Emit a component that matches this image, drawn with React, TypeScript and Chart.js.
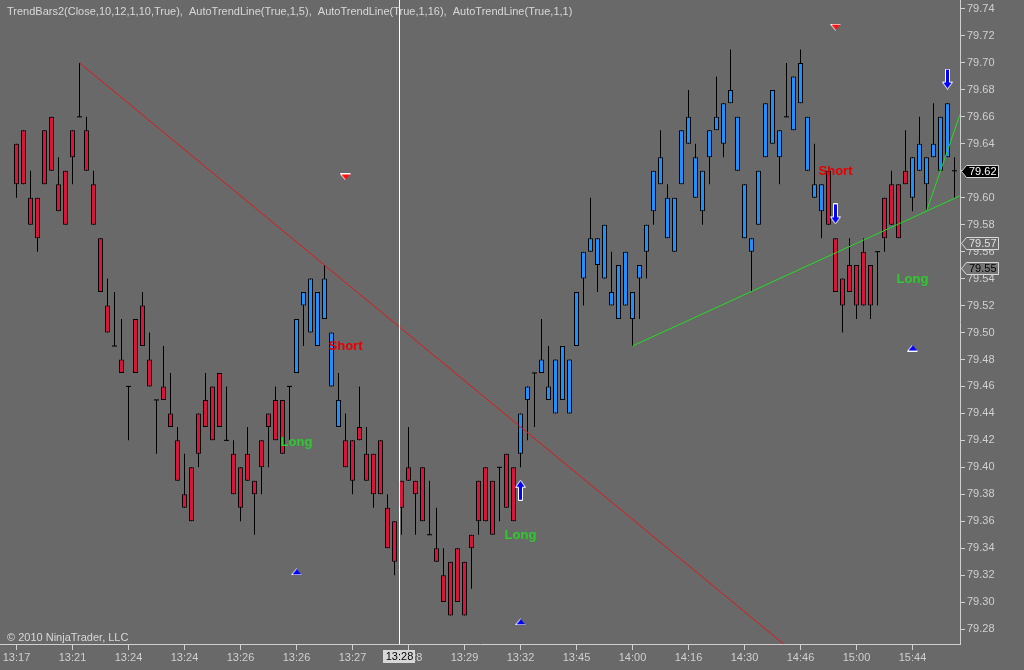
import React, { useEffect, useRef } from "react";
import { Chart, registerables } from "chart.js";

Chart.register(...registerables);

// ---------- data ----------
const opens = [
  79.64, 79.65, 79.60, 79.60, 79.65, 79.66, 79.61, 79.62, 79.65, 79.66,
  79.65, 79.61, 79.57, 79.52, 79.49, 79.48, 79.46, 79.51, 79.52, 79.48,
  79.45, 79.46, 79.44, 79.42, 79.38, 79.40, 79.44, 79.45, 79.46, 79.47,
  79.42, 79.41, 79.40, 79.41, 79.39, 79.42, 79.44, 79.45, 79.45, 79.46,
  79.47, 79.52, 79.50, 79.49, 79.51, 79.46, 79.43, 79.42, 79.42, 79.43,
  79.41, 79.41, 79.42, 79.37, 79.36, 79.39, 79.40, 79.39, 79.40, 79.35,
  79.34, 79.32, 79.33, 79.34, 79.33, 79.35, 79.39, 79.40, 79.39, 79.40,
  79.41, 79.40, 79.41, 79.45, 79.47, 79.47, 79.45, 79.44, 79.45, 79.44,
  79.49, 79.54, 79.56, 79.55, 79.54, 79.52, 79.51, 79.52, 79.51, 79.54,
  79.56, 79.59, 79.61, 79.57, 79.56, 79.61, 79.64, 79.60, 79.59, 79.63,
  79.65, 79.64, 79.67, 79.62, 79.57, 79.56, 79.58, 79.63, 79.64, 79.63,
  79.66, 79.65, 79.67, 79.62, 79.60, 79.59, 79.62, 79.57, 79.54, 79.55,
  79.55, 79.56, 79.55, 79.56, 79.60, 79.61, 79.61, 79.62, 79.60, 79.62,
  79.61, 79.63, 79.62, 79.63, 79.62,
];
const closes = [
  79.61, 79.61, 79.58, 79.57, 79.61, 79.62, 79.59, 79.58, 79.63, 79.66,
  79.62, 79.58, 79.53, 79.50, 79.49, 79.47, 79.46, 79.47, 79.49, 79.46,
  79.45, 79.45, 79.43, 79.39, 79.37, 79.36, 79.41, 79.43, 79.42, 79.43,
  79.42, 79.38, 79.37, 79.39, 79.38, 79.40, 79.43, 79.42, 79.41, 79.46,
  79.51, 79.53, 79.54, 79.53, 79.54, 79.50, 79.45, 79.40, 79.39, 79.42,
  79.39, 79.38, 79.38, 79.34, 79.33, 79.37, 79.39, 79.38, 79.36, 79.35,
  79.33, 79.30, 79.29, 79.30, 79.29, 79.34, 79.36, 79.36, 79.35, 79.40,
  79.37, 79.36, 79.44, 79.46, 79.47, 79.48, 79.46, 79.48, 79.49, 79.48,
  79.53, 79.56, 79.57, 79.57, 79.58, 79.53, 79.55, 79.56, 79.53, 79.55,
  79.58, 79.62, 79.63, 79.60, 79.60, 79.65, 79.66, 79.63, 79.62, 79.65,
  79.66, 79.67, 79.68, 79.66, 79.61, 79.57, 79.62, 79.67, 79.68, 79.65,
  79.66, 79.69, 79.70, 79.66, 79.61, 79.61, 79.58, 79.53, 79.52, 79.53,
  79.52, 79.52, 79.52, 79.56, 79.57, 79.58, 79.57, 79.61, 79.63, 79.64,
  79.63, 79.64, 79.66, 79.67, 79.62,
];
const highs = [
  79.64, 79.65, 79.62, 79.60, 79.65, 79.66, 79.63, 79.62, 79.65, 79.70,
  79.66, 79.62, 79.57, 79.54, 79.53, 79.51, 79.46, 79.51, 79.53, 79.50,
  79.45, 79.49, 79.47, 79.43, 79.41, 79.40, 79.44, 79.47, 79.46, 79.47,
  79.46, 79.42, 79.40, 79.43, 79.39, 79.42, 79.44, 79.46, 79.45, 79.46,
  79.51, 79.53, 79.54, 79.53, 79.55, 79.50, 79.47, 79.44, 79.42, 79.46,
  79.43, 79.41, 79.42, 79.38, 79.36, 79.39, 79.43, 79.39, 79.40, 79.39,
  79.37, 79.34, 79.33, 79.34, 79.33, 79.35, 79.39, 79.40, 79.39, 79.40,
  79.41, 79.40, 79.44, 79.46, 79.47, 79.51, 79.49, 79.48, 79.49, 79.48,
  79.53, 79.56, 79.60, 79.57, 79.58, 79.56, 79.55, 79.56, 79.53, 79.55,
  79.58, 79.62, 79.65, 79.61, 79.60, 79.65, 79.68, 79.64, 79.62, 79.65,
  79.69, 79.67, 79.71, 79.66, 79.61, 79.57, 79.62, 79.67, 79.68, 79.65,
  79.70, 79.69, 79.71, 79.66, 79.64, 79.61, 79.62, 79.57, 79.54, 79.57,
  79.55, 79.57, 79.55, 79.56, 79.60, 79.62, 79.61, 79.65, 79.63, 79.66,
  79.63, 79.67, 79.66, 79.67, 79.63,
];
const lows = [
  79.60, 79.61, 79.58, 79.56, 79.61, 79.62, 79.59, 79.58, 79.61, 79.66,
  79.62, 79.58, 79.53, 79.50, 79.49, 79.47, 79.42, 79.47, 79.49, 79.46,
  79.41, 79.45, 79.43, 79.39, 79.37, 79.36, 79.40, 79.43, 79.42, 79.43,
  79.42, 79.38, 79.36, 79.39, 79.35, 79.38, 79.40, 79.42, 79.41, 79.42,
  79.47, 79.49, 79.50, 79.49, 79.51, 79.46, 79.43, 79.40, 79.38, 79.42,
  79.39, 79.37, 79.38, 79.34, 79.32, 79.35, 79.39, 79.35, 79.36, 79.35,
  79.33, 79.30, 79.29, 79.30, 79.29, 79.31, 79.35, 79.36, 79.35, 79.36,
  79.37, 79.36, 79.40, 79.42, 79.43, 79.47, 79.45, 79.44, 79.45, 79.44,
  79.49, 79.52, 79.56, 79.53, 79.54, 79.52, 79.51, 79.52, 79.49, 79.51,
  79.54, 79.58, 79.61, 79.57, 79.56, 79.61, 79.64, 79.60, 79.58, 79.61,
  79.65, 79.63, 79.67, 79.62, 79.57, 79.53, 79.58, 79.63, 79.64, 79.61,
  79.66, 79.65, 79.67, 79.62, 79.60, 79.57, 79.58, 79.53, 79.50, 79.53,
  79.51, 79.52, 79.51, 79.52, 79.56, 79.58, 79.57, 79.61, 79.59, 79.62,
  79.59, 79.63, 79.62, 79.63, 79.60,
];
// trend state of the TrendBars indicator: [state, number of bars]
const trendRuns: [string, number][] = [
  ["down", 40], ["up", 7], ["down", 25], ["up", 44], ["down", 12], ["up", 6], ["flat", 1],
];

const xTickBars = [0, 8, 16, 24, 32, 40, 48, 56, 64, 72, 80, 88, 96, 104, 112, 120, 128];
const xTickLabels = [
  "13:17", "13:21", "13:24", "13:24", "13:26", "13:26", "13:27", "13:28", "13:29",
  "13:32", "13:45", "14:00", "14:16", "14:30", "14:46", "15:00", "15:44",
];
const yTickValues = [
  79.28, 79.30, 79.32, 79.34, 79.36, 79.38, 79.40, 79.42, 79.44, 79.46, 79.48, 79.50,
  79.52, 79.54, 79.56, 79.58, 79.60, 79.62, 79.64, 79.66, 79.68, 79.70, 79.72, 79.74,
];

// auto trend lines: two anchor bars and prices each (extended to the right)
const redTrendBars = [9, 44];
const redTrendPrices = [79.70, 79.55];
const greenTrendBarsA = [88, 130];
const greenTrendPricesA = [79.49, 79.59];
const greenTrendBarsB = [130, 132];
const greenTrendPricesB = [79.59, 79.62];

// signal markers
const shortTriangleBars = [47, 117];
const shortTrianglePrices = [79.6154, 79.7266];
const longTriangleBars = [40, 72, 128];
const longTrianglePrices = [79.3224, 79.2853, 79.4885];
const upArrowBars = [72];
const upArrowPrices = [79.383];
const downArrowBars = [117, 133];
const downArrowPrices = [79.588, 79.688];
const shortLabelBars = [47, 117];
const shortLabelPrices = [79.49, 79.6198];
const longLabelBars = [40, 72, 128];
const longLabelPrices = [79.4188, 79.3498, 79.5392];

// right-axis price markers
const markerOutlinePrice = 79.5666;
const markerOutlineLabel = "79.57";
const markerFilledPrice = 79.548;
const markerFilledLabel = "79.55";

const crosshairBar = 54.69;
const crosshairLabel = "13:28";

const titleText =
  "TrendBars2(Close,10,12,1,10,True),  AutoTrendLine(True,1,5),  AutoTrendLine(True,1,16),  AutoTrendLine(True,1,1)";
const copyrightText = "\u00A9 2010 NinjaTrader, LLC";

// ---------- styling ----------
const BG = "#696969";
const AXIS = "#d0d0d0";
const RED_BAR = "#dc143c";
const BLUE_BAR = "#1e90ff";
const FONT = '"Liberation Sans", Arial, sans-serif';
const X_MIN = -16.5 / 7;
const X_MAX = (960 - 16.5) / 7;
const Y_MIN = 79.74 - 635 / 1348;
const Y_MAX = 79.74 + 9 / 1348;
const DOJI = 0.0004;

function makeCanvas(w: number, h: number, draw: (g: CanvasRenderingContext2D) => void) {
  const c = document.createElement("canvas");
  c.width = w;
  c.height = h;
  const g = c.getContext("2d")!;
  draw(g);
  return c;
}

function extendLine(bars: number[], prices: number[]) {
  const slope = (prices[1] - prices[0]) / (bars[1] - bars[0]);
  return [
    { x: bars[0], y: prices[0] },
    { x: X_MAX, y: prices[0] + slope * (X_MAX - bars[0]) },
  ];
}

export default function App() {
  const ref = useRef<HTMLCanvasElement>(null);

  useEffect(() => {
    const canvas = ref.current;
    if (!canvas) return;

    const states: string[] = [];
    trendRuns.forEach(([s, n]) => {
      for (let k = 0; k < n; k++) states.push(s);
    });

    const wickData = highs.map((h, i) => ({ x: i, y: [lows[i], h] }));
    const bodyData = opens.map((o, i) => {
      const c = closes[i];
      if (o === c) return { x: i, y: [o - DOJI, o + DOJI] };
      return { x: i, y: [Math.min(o, c), Math.max(o, c)] };
    });
    const bodyColors = opens.map((o, i) =>
      o === closes[i] ? "#000000" : states[i] === "up" ? BLUE_BAR : states[i] === "down" ? RED_BAR : "#000000"
    );
    const bodyBorders = opens.map((o, i) => (o === closes[i] ? 0 : 1));

    const redTri = makeCanvas(11, 7, (g) => {
      g.beginPath();
      g.moveTo(0.5, 0.5);
      g.lineTo(10.5, 0.5);
      g.lineTo(5.5, 6.5);
      g.closePath();
      g.fillStyle = "#ff1010";
      g.fill();
      g.strokeStyle = "#ffffff";
      g.lineWidth = 1;
      g.beginPath();
      g.moveTo(5.5, 6.5);
      g.lineTo(0.5, 0.5);
      g.lineTo(10.5, 0.5);
      g.stroke();
    });
    const blueTri = makeCanvas(11, 7, (g) => {
      g.beginPath();
      g.moveTo(5.5, 0.5);
      g.lineTo(10.5, 6.5);
      g.lineTo(0.5, 6.5);
      g.closePath();
      g.fillStyle = "#0000ff";
      g.fill();
      g.strokeStyle = "#ffffff";
      g.lineWidth = 1;
      g.beginPath();
      g.moveTo(5.5, 0.5);
      g.lineTo(0.5, 6.5);
      g.lineTo(10.5, 6.5);
      g.stroke();
    });
    const arrowPath = (g: CanvasRenderingContext2D, up: boolean) => {
      const pts = [
        [5.5, 0.5], [10.5, 7.5], [7.5, 7.5], [7.5, 20.5], [3.5, 20.5], [3.5, 7.5], [0.5, 7.5],
      ];
      g.beginPath();
      pts.forEach(([px, py], k) => {
        const yy = up ? py : 21 - py;
        if (k === 0) g.moveTo(px, yy);
        else g.lineTo(px, yy);
      });
      g.closePath();
      g.fillStyle = "#0000ff";
      g.fill();
      g.strokeStyle = "#ffffff";
      g.lineWidth = 1;
      g.stroke();
    };
    const upArrow = makeCanvas(11, 21, (g) => arrowPath(g, true));
    const downArrow = makeCanvas(11, 21, (g) => arrowPath(g, false));

    const drawPriceBox = (
      ctx: CanvasRenderingContext2D,
      yPix: number,
      label: string,
      fill: string | null,
      stroke: string,
      text: string
    ) => {
      const yy = Math.round(yPix) + 0.5;
      ctx.beginPath();
      ctx.moveTo(961.5, yy);
      ctx.lineTo(966.5, yy - 6);
      ctx.lineTo(998.5, yy - 6);
      ctx.lineTo(998.5, yy + 6);
      ctx.lineTo(966.5, yy + 6);
      ctx.closePath();
      if (fill) {
        ctx.fillStyle = fill;
        ctx.fill();
      }
      ctx.strokeStyle = stroke;
      ctx.lineWidth = 1;
      ctx.stroke();
      ctx.fillStyle = text;
      ctx.font = `11px ${FONT}`;
      ctx.textAlign = "left";
      ctx.textBaseline = "middle";
      ctx.fillText(label, 969, yy + 0.5);
    };

    const overlay = {
      id: "overlay",
      beforeDraw(chart: any) {
        const { ctx, width, height } = chart;
        ctx.save();
        ctx.fillStyle = BG;
        ctx.fillRect(0, 0, width, height);
        ctx.restore();
      },
      afterDraw(chart: any) {
        const { ctx, chartArea } = chart;
        const xs = chart.scales.x;
        const ys = chart.scales.y;
        ctx.save();

        // signal labels
        ctx.font = `bold 13px ${FONT}`;
        ctx.textAlign = "center";
        ctx.textBaseline = "middle";
        ctx.fillStyle = "#e60000";
        shortLabelBars.forEach((b, i) =>
          ctx.fillText("Short", xs.getPixelForValue(b), ys.getPixelForValue(shortLabelPrices[i]))
        );
        ctx.fillStyle = "#32c832";
        longLabelBars.forEach((b, i) =>
          ctx.fillText("Long", xs.getPixelForValue(b), ys.getPixelForValue(longLabelPrices[i]))
        );

        // crosshair
        const cx = Math.round(xs.getPixelForValue(crosshairBar)) + 0.5;
        ctx.strokeStyle = "#ffffff";
        ctx.lineWidth = 1;
        ctx.beginPath();
        ctx.moveTo(cx, 0);
        ctx.lineTo(cx, chartArea.bottom);
        ctx.stroke();

        // title & copyright
        ctx.font = `11px ${FONT}`;
        ctx.textAlign = "left";
        ctx.textBaseline = "middle";
        ctx.fillStyle = "#d8d8d8";
        ctx.fillText(titleText, 7, 12);
        ctx.fillText(copyrightText, 7, 638);

        // crosshair time box
        ctx.fillStyle = "#d8d8d8";
        ctx.fillRect(cx - 16.5, 650, 32, 13);
        ctx.fillStyle = "#000000";
        ctx.textAlign = "center";
        ctx.fillText(crosshairLabel, cx, 657);

        // price markers on the right axis
        drawPriceBox(ctx, ys.getPixelForValue(markerOutlinePrice), markerOutlineLabel, BG, "#d8d8d8", "#e0e0e0");
        drawPriceBox(ctx, ys.getPixelForValue(markerFilledPrice), markerFilledLabel, "#747474", "#d8d8d8", "#000000");
        const last = closes[closes.length - 1];
        drawPriceBox(ctx, ys.getPixelForValue(last), last.toFixed(2), "#000000", "#d8d8d8", "#ffffff");

        ctx.restore();
      },
    };

    const chart = new Chart(canvas, {
      type: "bar",
      data: {
        datasets: [
          {
            type: "bar",
            label: "wicks",
            data: wickData as any,
            backgroundColor: "#000000",
            borderWidth: 0,
            barThickness: 1,
            maxBarThickness: 1,
            grouped: false,
            inflateAmount: 0,
            order: 3,
          } as any,
          {
            type: "bar",
            label: "bodies",
            data: bodyData as any,
            backgroundColor: bodyColors,
            borderColor: "#000000",
            borderWidth: bodyBorders,
            borderSkipped: false,
            barThickness: 5,
            maxBarThickness: 5,
            grouped: false,
            inflateAmount: 0,
            order: 2,
          } as any,
          {
            type: "line",
            label: "trend red",
            data: extendLine(redTrendBars, redTrendPrices),
            borderColor: "#e01818",
            borderWidth: 1,
            pointRadius: 0,
            fill: false,
            tension: 0,
            order: 1,
          } as any,
          {
            type: "line",
            label: "trend green A",
            data: extendLine(greenTrendBarsA, greenTrendPricesA),
            borderColor: "#22dd22",
            borderWidth: 1,
            pointRadius: 0,
            fill: false,
            tension: 0,
            order: 1,
          } as any,
          {
            type: "line",
            label: "trend green B",
            data: extendLine(greenTrendBarsB, greenTrendPricesB),
            borderColor: "#22dd22",
            borderWidth: 1,
            pointRadius: 0,
            fill: false,
            tension: 0,
            order: 1,
          } as any,
          {
            type: "line",
            label: "short triangles",
            data: shortTriangleBars.map((b, i) => ({ x: b, y: shortTrianglePrices[i] })),
            showLine: false,
            pointStyle: redTri,
            pointRadius: 5,
            order: 0,
          } as any,
          {
            type: "line",
            label: "long triangles",
            data: longTriangleBars.map((b, i) => ({ x: b, y: longTrianglePrices[i] })),
            showLine: false,
            pointStyle: blueTri,
            pointRadius: 5,
            order: 0,
          } as any,
          {
            type: "line",
            label: "up arrows",
            data: upArrowBars.map((b, i) => ({ x: b, y: upArrowPrices[i] })),
            showLine: false,
            pointStyle: upArrow,
            pointRadius: 5,
            order: 0,
          } as any,
          {
            type: "line",
            label: "down arrows",
            data: downArrowBars.map((b, i) => ({ x: b, y: downArrowPrices[i] })),
            showLine: false,
            pointStyle: downArrow,
            pointRadius: 5,
            order: 0,
          } as any,
        ],
      },
      options: {
        responsive: false,
        devicePixelRatio: 1,
        animation: false,
        events: [],
        layout: { padding: 0, autoPadding: false },
        plugins: {
          legend: { display: false },
          tooltip: { enabled: false },
          title: { display: false },
        },
        scales: {
          x: {
            type: "linear",
            position: "bottom",
            min: X_MIN,
            max: X_MAX,
            bounds: "data",
            offset: false,
            grid: {
              display: true,
              drawOnChartArea: false,
              drawTicks: true,
              tickLength: 6,
              color: AXIS,
              offset: false,
            },
            border: { display: true, color: AXIS, width: 1 },
            ticks: {
              autoSkip: false,
              maxRotation: 0,
              minRotation: 0,
              padding: 1,
              color: AXIS,
              font: { family: FONT, size: 11 },
              callback: (_v: any, i: number) => xTickLabels[i] ?? "",
            },
            afterBuildTicks: (s: any) => {
              s.ticks = xTickBars.map((v) => ({ value: v }));
            },
            afterFit: (s: any) => {
              s.height = 26;
              s.paddingLeft = 0;
              s.paddingRight = 0;
            },
          } as any,
          y: {
            type: "linear",
            position: "right",
            min: Y_MIN,
            max: Y_MAX,
            bounds: "data",
            beginAtZero: false,
            grid: {
              display: true,
              drawOnChartArea: false,
              drawTicks: true,
              tickLength: 5,
              color: AXIS,
            },
            border: { display: true, color: AXIS, width: 1 },
            ticks: {
              padding: 2,
              color: AXIS,
              font: { family: FONT, size: 11 },
              callback: (v: any) => Number(v).toFixed(2),
            },
            afterBuildTicks: (s: any) => {
              s.ticks = yTickValues.map((v) => ({ value: v }));
            },
            afterFit: (s: any) => {
              s.width = 64;
              s.paddingTop = 0;
              s.paddingBottom = 0;
            },
          } as any,
        },
      } as any,
      plugins: [overlay],
    });

    return () => chart.destroy();
  }, []);

  return (
    <div style={{ position: "absolute", left: 0, top: 0, width: 1024, height: 670, background: BG }}>
      <canvas ref={ref} width={1024} height={670} style={{ display: "block" }} />
    </div>
  );
}
